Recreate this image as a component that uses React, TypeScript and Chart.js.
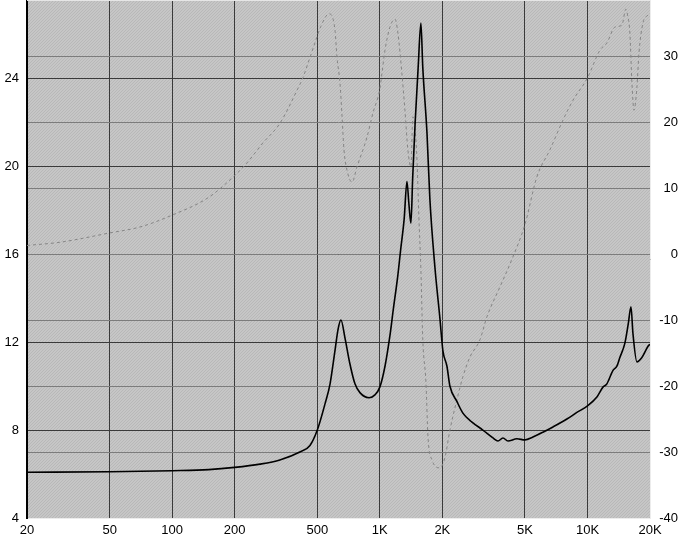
import React, { useEffect, useRef } from "react";
import { Chart, registerables } from "chart.js";

Chart.register(...registerables);

const impFreq = [20, 50, 100, 150, 200, 265, 330, 412, 461, 500, 545, 576, 608, 630, 650, 679, 718, 759, 802, 887, 947, 1000, 1059, 1119, 1160, 1220, 1260, 1310, 1351, 1380, 1412, 1440, 1480, 1530, 1577, 1610, 1687, 1742, 1842, 1946, 2013, 2105, 2175, 2350, 2512, 2778, 3135, 3507, 3707, 3918, 4140, 4573, 5000, 5460, 6100, 6820, 7960, 8890, 10000, 11100, 11870, 12400, 13250, 13850, 14320, 15140, 15700, 16200, 16550, 17300, 18280, 19540, 20000];
const impValues = [6.08, 6.1, 6.15, 6.2, 6.3, 6.45, 6.64, 7.0, 7.3, 8.0, 9.2, 10.1, 11.6, 12.6, 13.0, 12.2, 11.0, 10.1, 9.7, 9.47, 9.6, 9.95, 10.9, 12.3, 13.45, 15.0, 16.2, 17.6, 19.3, 18.3, 17.4, 19.5, 22.0, 24.5, 26.5, 24.5, 21.5, 18.5, 15.4, 13.1, 11.6, 10.9, 10.0, 9.3, 8.77, 8.36, 8.0, 7.64, 7.5, 7.64, 7.5, 7.6, 7.55, 7.68, 7.9, 8.14, 8.5, 8.8, 9.1, 9.5, 9.95, 10.1, 10.7, 10.9, 11.3, 11.95, 12.8, 13.6, 12.4, 11.1, 11.3, 11.8, 11.9];

const phaseFreq = [20, 29, 50, 70, 100, 150, 200, 229, 273, 330, 399, 427, 461, 487, 520, 569, 608, 622, 643, 658, 672, 695, 735, 776, 867, 927, 1000, 1024, 1059, 1119, 1183, 1222, 1277, 1321, 1365, 1412, 1442, 1476, 1510, 1542, 1577, 1610, 1668, 1706, 1783, 1946, 2060, 2175, 2350, 2512, 2717, 3034, 3280, 3785, 4300, 5000, 5705, 6594, 7620, 8514, 10000, 11480, 12400, 13560, 14650, 15300, 15600, 16000, 16370, 16750, 17300, 17700, 18490, 19540, 20000];
const phaseValues = [1.3, 1.8, 3.2, 4.1, 5.9, 8.6, 11.9, 13.8, 16.8, 19.8, 24.8, 26.8, 29.8, 32, 34.5, 36.4, 34, 29.8, 25.9, 20.8, 15.8, 12.7, 10.9, 13.2, 17.7, 21.4, 25, 27.4, 30.9, 34.4, 35.6, 33.5, 27.4, 21.8, 15.8, 13.2, 20.8, 19.2, 14.2, 5.6, -2.4, -12.9, -19.5, -27.7, -31.2, -32.4, -30.8, -26.7, -22.1, -18.6, -15.6, -13, -9.5, -5, -1, 4.5, 11.7, 15.8, 20.3, 23.3, 26.7, 30.9, 32, 34.4, 34.7, 37.1, 36.2, 33.5, 25.9, 21.8, 25.3, 30.5, 35, 36.2, 36.5];

const xTicks = [20, 50, 100, 200, 500, 1000, 2000, 5000, 10000, 20000];
const xTickLabels = ["20", "50", "100", "200", "500", "1K", "2K", "5K", "10K", "20K"];
const leftTicks = [4, 8, 12, 16, 20, 24];
const rightTicks = [-40, -30, -20, -10, 0, 10, 20, 30];

const FONT = { family: "'Liberation Sans', Arial, sans-serif", size: 13 };

function makePattern(): CanvasPattern | string {
  const c = document.createElement("canvas");
  c.width = 3;
  c.height = 3;
  const g = c.getContext("2d");
  if (!g) return "#c3c3c3";
  g.fillStyle = "#c6c6c6";
  g.fillRect(0, 0, 3, 3);
  g.fillStyle = "#b8b8b8";
  for (let i = 0; i < 3; i++) g.fillRect((2 - i + 3) % 3, i, 1, 1);
  const p = g.createPattern(c, "repeat");
  return p || "#c3c3c3";
}

const bgPlugin = {
  id: "hatchBg",
  beforeDraw(chart: any) {
    const { ctx, chartArea } = chart;
    if (!chartArea) return;
    ctx.save();
    ctx.fillStyle = makePattern();
    ctx.fillRect(chartArea.left, chartArea.top, chartArea.right - chartArea.left, chartArea.bottom - chartArea.top);
    ctx.restore();
  },
  afterDraw(chart: any) {
    const { ctx, chartArea } = chart;
    ctx.save();
    ctx.strokeStyle = "#e6e6e6";
    ctx.lineWidth = 1;
    ctx.beginPath();
    ctx.moveTo(chartArea.left, chartArea.top + 0.5);
    ctx.lineTo(chartArea.right, chartArea.top + 0.5);
    ctx.stroke();
    ctx.restore();
  },
};

export default function App() {
  const ref = useRef<HTMLCanvasElement | null>(null);

  useEffect(() => {
    if (!ref.current) return;
    const chart = new Chart(ref.current, {
      type: "line",
      data: {
        datasets: [
          {
            label: "Impedance",
            data: impFreq.map((f, i) => ({ x: f, y: impValues[i] })),
            borderColor: "#000000",
            borderWidth: 1.6,
            pointRadius: 0,
            cubicInterpolationMode: "monotone",
            yAxisID: "y",
          },
          {
            label: "Phase",
            data: phaseFreq.map((f, i) => ({ x: f, y: phaseValues[i] })),
            borderColor: "#858585",
            borderWidth: 1,
            borderDash: [3, 3],
            pointRadius: 0,
            cubicInterpolationMode: "monotone",
            yAxisID: "y1",
          },
        ],
      },
      options: {
        animation: false,
        responsive: true,
        maintainAspectRatio: false,
        layout: { padding: 0 },
        plugins: { legend: { display: false }, tooltip: { enabled: false } },
        scales: {
          x: {
            type: "logarithmic",
            min: 20,
            max: 20000,
            afterBuildTicks: (s: any) => {
              s.ticks = xTicks.map((v) => ({ value: v }));
            },
            afterFit: (s: any) => {
              s.height = 23;
              s.paddingLeft = 0;
              s.paddingRight = 0;
            },
            ticks: {
              callback: (v: any) => {
                const i = xTicks.indexOf(Number(v));
                return i >= 0 ? xTickLabels[i] : "";
              },
              autoSkip: false,
              maxRotation: 0,
              color: "#000",
              font: FONT,
              padding: 5,
            },
            grid: { color: "#3a3a3a", lineWidth: 1, drawTicks: false },
            border: { color: "#ececec", width: 1 },
          },
          y: {
            position: "left",
            min: 4,
            max: 27.55,
            afterBuildTicks: (s: any) => {
              s.ticks = leftTicks.map((v) => ({ value: v }));
            },
            afterFit: (s: any) => {
              s.width = 27;
              s.paddingTop = 0;
              s.paddingBottom = 0;
            },
            ticks: { color: "#000", font: FONT, padding: 8 },
            grid: { color: "#3a3a3a", lineWidth: 1, drawTicks: false },
            border: { color: "#000", width: 2 },
          },
          y1: {
            position: "right",
            min: -40,
            max: 38.5,
            afterBuildTicks: (s: any) => {
              s.ticks = rightTicks.map((v) => ({ value: v }));
            },
            afterFit: (s: any) => {
              s.width = 28;
              s.paddingTop = 0;
              s.paddingBottom = 0;
            },
            ticks: { color: "#000", font: FONT, padding: 1, crossAlign: "far" },
            grid: { color: "#7c7c7c", lineWidth: 1, drawTicks: false },
            border: { color: "#ececec", width: 1 },
          },
        },
      },
      plugins: [bgPlugin],
    } as any);
    return () => chart.destroy();
  }, []);

  return (
    <div style={{ position: "absolute", left: 0, top: 0, width: 678, height: 541, background: "#fff" }}>
      <canvas ref={ref} />
    </div>
  );
}
